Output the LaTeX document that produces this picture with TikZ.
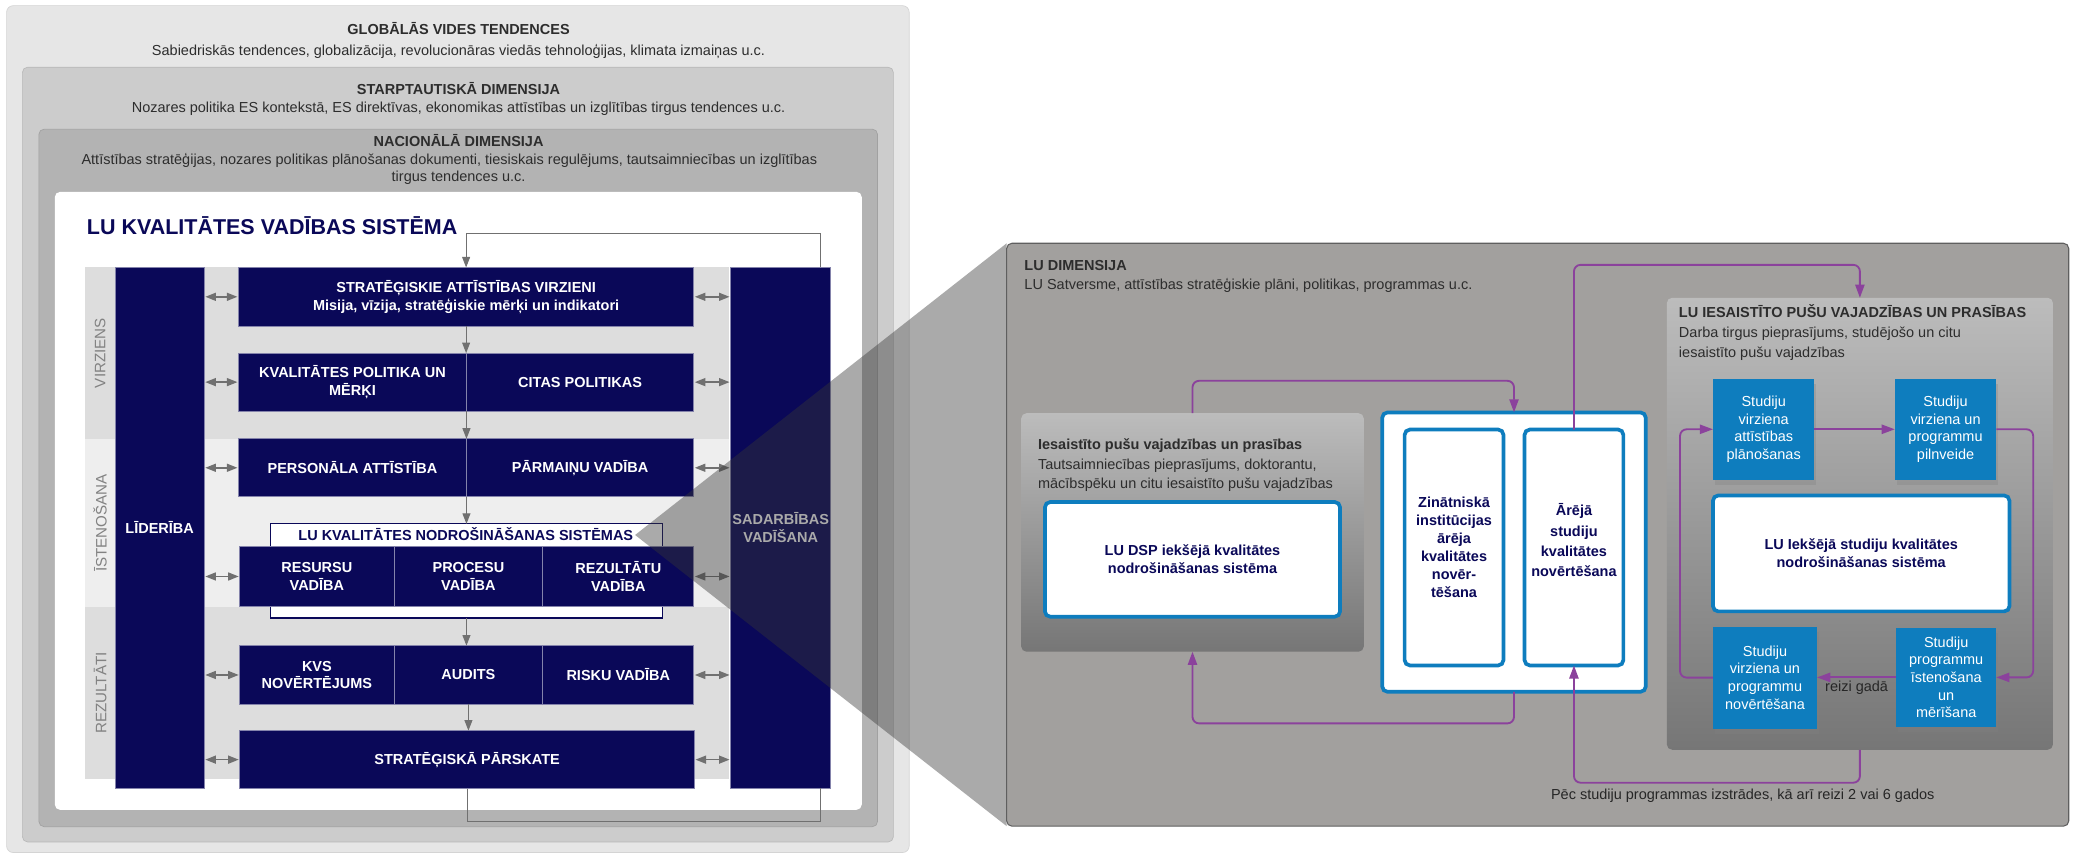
\documentclass[tikz,border=0pt]{standalone}
\usepackage{fontspec}
\setmainfont{Liberation Sans}
\usetikzlibrary{arrows.meta,shadows}
\definecolor{navy}{RGB}{10,8,88}
\definecolor{gA}{RGB}{230,230,230}
\definecolor{gB}{RGB}{204,204,204}
\definecolor{gC}{RGB}{179,179,179}
\definecolor{bandD}{RGB}{221,221,221}
\definecolor{bandL}{RGB}{238,238,238}
\definecolor{arrg}{RGB}{112,112,112}
\definecolor{hdr}{RGB}{45,45,45}
\definecolor{lbl}{RGB}{130,130,130}
\definecolor{panel}{RGB}{162,160,158}
\definecolor{panelb}{RGB}{95,95,95}
\definecolor{subT}{RGB}{188,188,188}
\definecolor{subB}{RGB}{118,118,118}
\definecolor{lublue}{RGB}{14,125,190}
\definecolor{purp}{RGB}{139,66,156}
\newcommand{\fsz}[2]{\fontsize{#1}{#2}\selectfont}
\begin{document}
\begin{tikzpicture}[x=1pt,y=-1pt,
  nbox/.style={fill=navy, draw=navy!50!white, line width=0.6pt, text=white, font=\bfseries\fsz{11}{13.5}, align=center, inner sep=0pt, outer sep=0pt, anchor=north west},
  dbl/.style={draw=arrg, line width=1.2pt, {Triangle[length=8pt,width=6pt]}-{Triangle[length=8pt,width=6pt]}, shorten <=0.8pt, shorten >=0.8pt},
  garr/.style={draw=arrg, line width=0.8pt, -{Triangle[length=8pt,width=6pt]}},
  gline/.style={draw=arrg, line width=0.7pt},
  parr/.style={draw=purp, line width=1.4pt, rounded corners=5pt, -{Triangle[length=10pt,width=7pt]}},
  bbox/.style={fill=lublue, text=white, font=\fsz{11}{13.4}, align=center, inner sep=0pt, outer sep=0pt, anchor=north west, drop shadow={shadow xshift=1.5pt, shadow yshift=-4pt, opacity=0.3}},
  wbox/.style={fill=white, draw=lublue, line width=2.8pt, rounded corners=4pt, text=navy, font=\bfseries\fsz{11}{13.5}, align=center, inner sep=0pt, outer sep=0pt, anchor=north west},
  sbox/.style={top color=subT, bottom color=subB, rounded corners=4pt, inner sep=0pt, outer sep=0pt, anchor=north west},
  htxt/.style={text=hdr, anchor=base, inner sep=0pt, font=\fsz{11}{13}},
  hbold/.style={htxt, font=\bfseries\fsz{11}{13}},
  vlbl/.style={text=lbl, rotate=90, font=\fsz{11.5}{14}, inner sep=0pt},
]
\useasboundingbox (0,0) rectangle (1574,648);
\fill[white] (0,0) rectangle (1574,648);

% ---------- left panel frames ----------
\filldraw[fill=gA, draw=gA!92!black, line width=0.5pt, rounded corners=5pt] (5,4.3) rectangle (690,647);
\filldraw[fill=gB, draw=gB!90!black, line width=0.5pt, rounded corners=4pt] (17,51) rectangle (678,639);
\filldraw[fill=gC, draw=gC!90!black, line width=0.5pt, rounded corners=4pt] (29.5,98) rectangle (666,627.4);
\fill[white, rounded corners=4pt] (41.6,145.6) rectangle (654,614.6);

\node[hbold] (glt) at (348,26) {GLOBĀLĀS VIDES TENDENCES};
\node[htxt] (gls) at (348,42) {Sabiedriskās tendences, globalizācija, revolucionāras viedās tehnoloģijas, klimata izmaiņas u.c.};
\node[hbold] (stt) at (348,72) {STARPTAUTISKĀ DIMENSIJA};
\node[htxt] (sts) at (348,85.5) {Nozares politika ES kontekstā, ES direktīvas, ekonomikas attīstības un izglītības tirgus tendences u.c.};
\node[hbold] (nat) at (348,111.5) {NACIONĀLĀ DIMENSIJA};
\node[htxt] (nas1) at (341,125) {Attīstības stratēģijas, nozares politikas plānošanas dokumenti, tiesiskais regulējums, tautsaimniecības un izglītības};
\node[htxt] (nas2) at (348,138) {tirgus tendences u.c.};

\node[text=navy, font=\bfseries\fsz{16.3}{19}, anchor=base west, inner sep=0pt] (title) at (65.8,178.3) {LU KVALITĀTES VADĪBAS SISTĒMA};

% ---------- bands ----------
\fill[bandD] (64.6,203) rectangle (553,333);
\fill[bandL] (64.6,333) rectangle (553,461);
\fill[bandD] (64.6,461) rectangle (553,591);
\node[vlbl] (lv) at (76,268) {VIRZIENS};
\node[vlbl] (li) at (76,397) {ĪSTENOŠANA};
\node[vlbl] (lr) at (76,526) {REZULTĀTI};

% ---------- columns ----------
\node[nbox, minimum width=67.7, minimum height=395] (lid) at (87.3,203) {LĪDERĪBA};
\node[nbox, minimum width=76, minimum height=395] (sad) at (554.5,203) {SADARBĪBAS\\VADĪŠANA};

% ---------- rows ----------
\node[nbox, minimum width=345.5, minimum height=44.5] (strat) at (181,203) {STRATĒĢISKIE ATTĪSTĪBAS VIRZIENI\\Misija, vīzija, stratēģiskie mērķi un indikatori};
\node[nbox, minimum width=173, minimum height=44] (kp) at (181,268) {KVALITĀTES POLITIKA UN\\MĒRĶI};
\node[nbox, minimum width=172.5, minimum height=44] (cp) at (354,268) {CITAS POLITIKAS};
\node[nbox, minimum width=173, minimum height=44] (pa) at (181,333) {PERSONĀLA ATTĪSTĪBA};
\node[nbox, minimum width=172.5, minimum height=44] (pv) at (354,333) {PĀRMAIŅU VADĪBA};
\node[draw=navy, fill=white, line width=0.8pt, minimum width=298, minimum height=71.4, anchor=north west, inner sep=0pt, outer sep=0pt] (nodf) at (205,397.6) {};
\node[text=navy, font=\bfseries\fsz{11}{13}, anchor=base, inner sep=0pt] (nodt) at (353.5,410) {LU KVALITĀTES NODROŠINĀŠANAS SISTĒMAS};
\node[nbox, minimum width=117, minimum height=45] (rv) at (182,415) {RESURSU\\VADĪBA};
\node[nbox, minimum width=113, minimum height=45] (prv) at (299,415) {PROCESU\\VADĪBA};
\node[nbox, minimum width=114.5, minimum height=45] (rzv) at (412,415) {REZULTĀTU\\VADĪBA};
\node[nbox, minimum width=117, minimum height=44.5] (kvs) at (182,490) {KVS\\NOVĒRTĒJUMS};
\node[nbox, minimum width=113, minimum height=44.5] (au) at (299,490) {AUDITS};
\node[nbox, minimum width=114.5, minimum height=44.5] (rsk) at (412,490) {RISKU VADĪBA};
\node[nbox, minimum width=345, minimum height=44] (sp) at (182,554.5) {STRATĒĢISKĀ PĀRSKATE};

% vertical flow
\draw[garr] (strat.south) -- (strat.south |- kp.north);
\draw[garr] (kp.south east) -- (kp.south east |- pa.north);
\draw[garr] (pa.south east) -- (pa.south east |- nodf.north);
\draw[garr] (nodf.south) -- (nodf.south |- kvs.north);
\draw[garr] (au.south) -- (au.south |- sp.north);

% double arrows left
\draw[dbl] (lid.east |- strat.west) -- (strat.west);
\draw[dbl] (lid.east |- kp.west) -- (kp.west);
\draw[dbl] (lid.east |- pa.west) -- (pa.west);
\draw[dbl] (lid.east |- rv.west) -- (rv.west);
\draw[dbl] (lid.east |- kvs.west) -- (kvs.west);
\draw[dbl] (lid.east |- sp.west) -- (sp.west);
% double arrows right
\draw[dbl] (strat.east) -- (strat.east -| sad.west);
\draw[dbl] (cp.east) -- (cp.east -| sad.west);
\draw[dbl] (pv.east) -- (pv.east -| sad.west);
\draw[dbl] (rzv.east) -- (rzv.east -| sad.west);
\draw[dbl] (rsk.east) -- (rsk.east -| sad.west);
\draw[dbl] (sp.east) -- (sp.east -| sad.west);

% feedback loop
\coordinate (fbt) at (623,177.5);
\coordinate (fbb) at (623,623.7);
\draw[garr, line width=0.7pt] (sad.north -| fbt) -- (fbt) -| (strat.north);
\draw[gline] (sp.south) |- (fbb) -- (fbb |- sad.south);

% ---------- zoom overlay ----------
\fill[black!79, opacity=0.42] (482,406) -- (764,184.6) -- (764,627) -- cycle;

% ---------- right panel ----------
\node[draw=panelb, fill=panel, rounded corners=4pt, line width=0.8pt, minimum width=806, minimum height=442.4, anchor=north west, inner sep=0pt, outer sep=0pt] (lud) at (764,184.6) {};
\node[hbold, anchor=base west] (ludt) at (777.3,205) {LU DIMENSIJA};
\node[htxt, anchor=base west] (luds) at (777.3,220) {LU Satversme, attīstības stratēģiskie plāni, politikas, programmas u.c.};

\node[sbox, minimum width=260, minimum height=181] (lsb) at (775,313.6) {};
\node[hbold, anchor=base west] (lsbt) at (787.6,341) {Iesaistīto pušu vajadzības un prasības};
\node[htxt, anchor=base west] (lsb1) at (787.6,356) {Tautsaimniecības pieprasījums, doktorantu,};
\node[htxt, anchor=base west] (lsb2) at (787.6,371) {mācībspēku un citu iesaistīto pušu vajadzības};
\node[wbox, minimum width=224, minimum height=87, font=\bfseries\fsz{11}{14}] (dsp) at (793,381) {LU DSP iekšējā kvalitātes\\nodrošināšanas sistēma};

\node[wbox, minimum width=200, minimum height=212] (mid) at (1049,313) {};
\node[wbox, minimum width=75, minimum height=179, font=\bfseries\fsz{11}{13.7}] (zin) at (1066,326) {Zinātniskā\\institūcijas\\ārēja\\kvalitātes\\novēr-\\tēšana};
\node[wbox, minimum width=75, minimum height=179] (arj) at (1157,326) {};
\node[text=navy, font=\bfseries\fsz{11}{15.3}, align=center, inner sep=0pt] (arjt) at (1194.5,410) {Ārējā\\studiju\\kvalitātes\\novērtēšana};

\node[sbox, minimum width=293, minimum height=343] (rsb) at (1265,226) {};
\node[hbold, anchor=base west] (rsbt) at (1274,241) {LU IESAISTĪTO PUŠU VAJADZĪBAS UN PRASĪBAS};
\node[htxt, anchor=base west] (rsb1) at (1274,256) {Darba tirgus pieprasījums, studējošo un citu};
\node[htxt, anchor=base west] (rsb2) at (1274,271) {iesaistīto pušu vajadzības};

\node[bbox, minimum width=77, minimum height=76.4] (plan) at (1300,287.6) {Studiju\\virziena\\attīstības\\plānošanas};
\node[bbox, minimum width=77, minimum height=76.4] (piln) at (1438,287.6) {Studiju\\virziena un\\programmu\\pilnveide};
\node[bbox, minimum width=79, minimum height=77.5] (nove) at (1300,475.5) {Studiju\\virziena un\\programmu\\novērtēšana};
\node[bbox, minimum width=76, minimum height=75] (iste) at (1439,476.6) {Studiju\\programmu\\īstenošana\\un\\mērīšana};
\node[wbox, minimum width=225, minimum height=88, font=\bfseries\fsz{11}{13.7}] (ctr) at (1300,376) {LU Iekšējā studiju kvalitātes\\nodrošināšanas sistēma};

% purple connectors
\draw[parr] (lsb.north) -- ++(0,-24.6) -| (mid.north);
\draw[parr] (mid.south) -- ++(0,24) -| (lsb.south);
\draw[parr] (arj.north) -- (arj.north |- 0,201) -| (rsb.north);
\draw[parr] (rsb.south) -- ++(0,25) -| (arj.south);
\draw[parr] (plan.east) -- (piln.west);
\draw[parr] (piln.east) -- ++(28,0) |- (iste.east);
\draw[parr] (iste.west) -- (iste.west -| nove.east);
\draw[parr] (nove.west) -- ++(-25,0) |- (plan.west);

\node[text=black!85, font=\fsz{11}{13}, anchor=base, inner sep=0pt] (rg) at (1409,525) {reizi gadā};
\node[text=black!85, font=\fsz{11}{13}, anchor=base, inner sep=0pt] (pec) at (1322.6,606.5) {Pēc studiju programmas izstrādes, kā arī reizi 2 vai 6 gados};
\end{tikzpicture}
\end{document}
